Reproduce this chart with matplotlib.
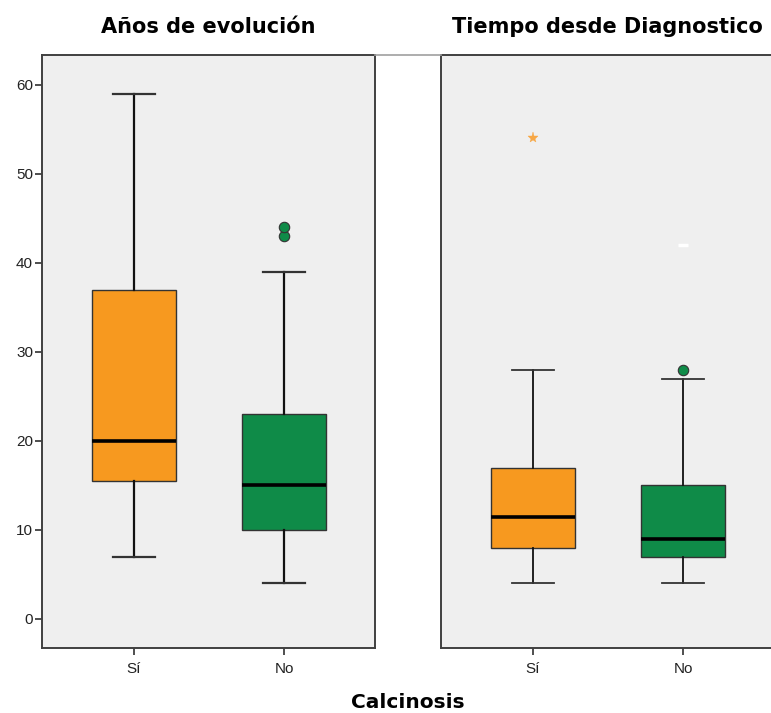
import matplotlib
matplotlib.use('Agg')
import matplotlib.pyplot as plt
from matplotlib.lines import Line2D

# categorias y estadisticos
groups = ['Sí', 'No']
titles = ['Años de evolución', 'Tiempo desde Diagnostico']

# Años de evolución
evol_low = [7, 4]
evol_q1 = [15.5, 10]
evol_med = [20, 15]
evol_q3 = [37, 23]
evol_high = [59, 39]
evol_out = [[], [43, 44]]
evol_ext = [[], []]

# Tiempo desde Diagnostico
diag_low = [4, 4]
diag_q1 = [8, 7]
diag_med = [11.5, 9]
diag_q3 = [17, 15]
diag_high = [28, 27]
diag_out = [[], [28]]
diag_ext = [[54], [42]]

colors = ['#F7991F', '#0F8B48']
ext_colors = ['#F7A745', '#FFFFFF']
bg = '#EFEFEF'
spine_c = '#404040'

fig = plt.figure(figsize=(7.71, 7.13), dpi=100)

def make_stats(low, q1, med, q3, high, out):
    st = []
    for i in range(len(low)):
        st.append({'whislo': low[i], 'q1': q1[i], 'med': med[i], 'q3': q3[i],
                   'whishi': high[i], 'fliers': out[i]})
    return st

panels = [
    (make_stats(evol_low, evol_q1, evol_med, evol_q3, evol_high, evol_out), evol_ext, 1.6),
    (make_stats(diag_low, diag_q1, diag_med, diag_q3, diag_high, diag_out), diag_ext, 1.3),
]
rects = [[42 / 771, 0.0912, 333 / 771, 0.8317], [441 / 771, 0.0912, 333 / 771, 0.8317]]

for k, (stats, ext, lw) in enumerate(panels):
    ax = fig.add_axes(rects[k])
    ax.set_facecolor(bg)
    bp = ax.bxp(stats, positions=[0, 1], widths=0.56, capwidths=0.28,
                patch_artist=True, showfliers=True,
                boxprops=dict(edgecolor='#333333', linewidth=1.0),
                whiskerprops=dict(color='#111111', linewidth=lw),
                capprops=dict(color='#333333', linewidth=lw),
                medianprops=dict(color='black', linewidth=2.6),
                flierprops=dict(marker='o', markersize=7.5, markeredgecolor='#333333',
                                markeredgewidth=0.8))
    for i, patch in enumerate(bp['boxes']):
        patch.set_facecolor(colors[i])
        bp['fliers'][i].set_markerfacecolor(colors[i])
    for i in range(len(groups)):
        if ext[i]:
            if i == 0:
                ax.plot([i] * len(ext[i]), ext[i], linestyle='none', marker='*',
                        markersize=8, color=ext_colors[i], markeredgewidth=0.3)
            else:
                ax.plot([i] * len(ext[i]), ext[i], linestyle='none', marker='_',
                        markersize=7, markeredgewidth=2.5, color=ext_colors[i])
    ax.set_xlim(-0.613, 1.607)
    ax.set_ylim(-3.26, 63.37)
    ax.set_xticks([0, 1])
    ax.set_xticklabels(groups, fontsize=11, family='Liberation Sans', color='#222222')
    for s in ax.spines.values():
        s.set_color(spine_c)
        s.set_linewidth(1.4)
    ax.tick_params(axis='x', length=5, width=1.3, color=spine_c, pad=5)
    if k == 0:
        ax.set_yticks([0, 10, 20, 30, 40, 50, 60])
        ax.set_yticklabels([str(v) for v in [0, 10, 20, 30, 40, 50, 60]],
                           fontsize=11, family='Liberation Sans', color='#222222')
        ax.tick_params(axis='y', length=5, width=1.3, color=spine_c, pad=1.5)
    else:
        ax.set_yticks([])
    ax.set_title(titles[k], fontsize=15, fontweight='bold', family='DejaVu Sans', pad=16)

# linea gris superior entre paneles
fig.add_artist(Line2D([375 / 771, 441 / 771], [1 - 55 / 713, 1 - 55 / 713],
                      color='#A0A0A0', linewidth=1.2, transform=fig.transFigure))

fig.text(408 / 771, 1 - 702 / 713, 'Calcinosis', ha='center', va='center',
         fontsize=14.5, fontweight='bold', family='DejaVu Sans')

fig.savefig('out.png', dpi=100)
